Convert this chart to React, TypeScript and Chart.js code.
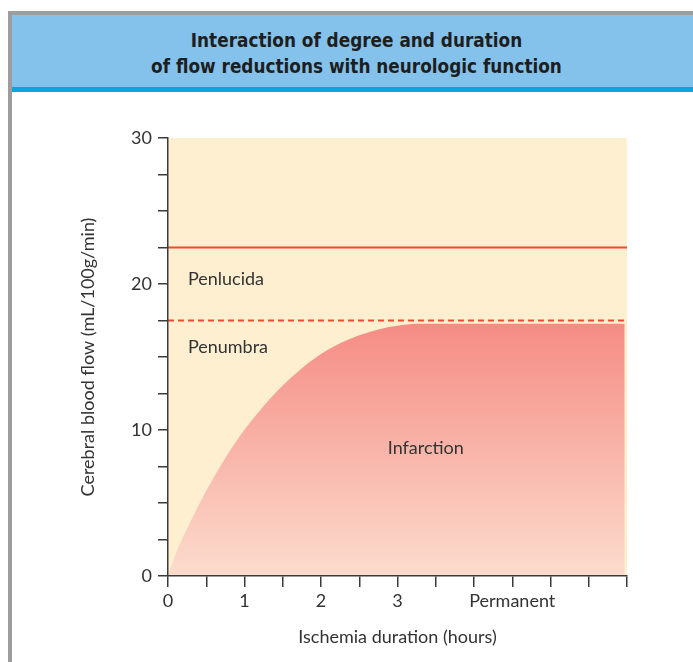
import React, { useEffect, useRef } from "react";
import { Chart, registerables } from "chart.js";

Chart.register(...registerables);

// ---------- data ----------
const titleLines = ["Interaction of degree and duration", "of flow reductions with neurologic function"];
const xAxisTitle = "Ischemia duration (hours)";
const yAxisTitle = "Cerebral blood flow (mL/100g/min)";

const durationHours = [0, 0.1, 0.25, 0.5, 0.75, 1.0, 1.25, 1.5, 1.75, 2.0, 2.25, 2.5, 2.75, 3.0, 3.25, 5.97];
const infarctionFlow = [0, 1.5, 3.25, 5.84, 8.09, 10.01, 11.65, 13.05, 14.23, 15.2, 15.94, 16.49, 16.89, 17.14, 17.28, 17.28];

const penlucidaThreshold = 22.5;
const penumbraThreshold = 17.5;
const thresholdSpan = [0, 6];

const xTickValues = [0, 1, 2, 3, 4.5];
const xTickTexts = ["0", "1", "2", "3", "Permanent"];
const yTickValues = [0, 10, 20, 30];

const zoneNames = ["Penlucida", "Penumbra", "Infarction"];
const zoneAnchorX = [0.26, 0.26, 3.37];
const zoneAnchorY = [20.3, 15.7, 8.75];
const zoneAlign = ["left", "left", "center"];

// ---------- styles ----------
const CREAM = "#FEEFD0";
const RED = "#F04A2C";
const TEXT = "#333333";
const AXIS = "#3a3a3a";
const FONT = "Lato, 'Open Sans', sans-serif";
const FS = 18;

const backgroundPlugin = {
  id: "zoneBackground",
  beforeDraw(chart: any) {
    const { ctx, chartArea } = chart;
    if (!chartArea) return;
    ctx.save();
    ctx.fillStyle = CREAM;
    ctx.fillRect(chartArea.left, chartArea.top, chartArea.right - chartArea.left, chartArea.bottom - chartArea.top);
    ctx.restore();
  },
  afterDatasetsDraw(chart: any) {
    const { ctx } = chart;
    const xs = chart.scales.x;
    const ys = chart.scales.y;
    ctx.save();
    ctx.fillStyle = TEXT;
    ctx.font = `${FS}px ${FONT}`;
    ctx.textBaseline = "middle";
    zoneNames.forEach((name, i) => {
      ctx.textAlign = zoneAlign[i] as CanvasTextAlign;
      ctx.fillText(name, xs.getPixelForValue(zoneAnchorX[i]), ys.getPixelForValue(zoneAnchorY[i]));
    });
    ctx.restore();
  },
};

export default function App() {
  const ref = useRef<HTMLCanvasElement | null>(null);

  useEffect(() => {
    if (!ref.current) return;
    const infarctionPoints = durationHours.map((x, i) => ({ x, y: infarctionFlow[i] }));
    const chart = new Chart(ref.current, {
      type: "scatter",
      data: {
        datasets: [
          {
            data: infarctionPoints,
            showLine: true,
            fill: "origin",
            borderWidth: 0,
            borderColor: "rgba(0,0,0,0)",
            pointRadius: 0,
            cubicInterpolationMode: "monotone",
            backgroundColor: (c: any) => {
              const ch = c.chart;
              const area = ch.chartArea;
              if (!area || !ch.scales.y) return "#F79E94";
              const top = ch.scales.y.getPixelForValue(17.3);
              const g = ch.ctx.createLinearGradient(0, top, 0, area.bottom);
              g.addColorStop(0, "#F58C84");
              g.addColorStop(1, "#FCDCCD");
              return g;
            },
          } as any,
          {
            data: thresholdSpan.map((x) => ({ x, y: penlucidaThreshold })),
            showLine: true,
            borderColor: RED,
            borderWidth: 2,
            pointRadius: 0,
            fill: false,
          } as any,
          {
            data: thresholdSpan.map((x) => ({ x, y: penumbraThreshold })),
            showLine: true,
            borderColor: RED,
            borderWidth: 2,
            borderDash: [6, 4],
            pointRadius: 0,
            fill: false,
          } as any,
        ],
      },
      options: {
        animation: false,
        responsive: false,
        maintainAspectRatio: false,
        devicePixelRatio: 1,
        layout: { padding: { top: 46, right: 66, left: 0, bottom: 0 } },
        plugins: { legend: { display: false }, tooltip: { enabled: false } },
        scales: {
          x: {
            type: "linear",
            min: 0,
            max: 6,
            afterFit: (s: any) => {
              s.height = 86;
            },
            afterBuildTicks: (s: any) => {
              const t = [];
              for (let v = 0; v <= 6; v += 0.5) t.push({ value: v });
              s.ticks = t;
            },
            ticks: {
              autoSkip: false,
              maxRotation: 0,
              color: TEXT,
              font: { family: FONT, size: FS },
              padding: 3,
              callback: (v: any) => {
                const i = xTickValues.indexOf(Number(v));
                return i >= 0 ? xTickTexts[i] : "";
              },
            },
            grid: { drawOnChartArea: false, drawTicks: true, tickLength: 11, tickColor: AXIS, lineWidth: 1.5 },
            border: { display: true, color: AXIS, width: 1.5, z: 1 },
            title: {
              display: true,
              text: xAxisTitle,
              color: TEXT,
              font: { family: FONT, size: FS },
              padding: { top: 0, bottom: 14 },
            },
          },
          y: {
            type: "linear",
            min: 0,
            max: 30,
            afterFit: (s: any) => {
              s.width = 157;
            },
            ticks: {
              stepSize: 2.5,
              autoSkip: false,
              color: TEXT,
              font: { family: FONT, size: FS },
              padding: 6,
              callback: (v: any) => (yTickValues.includes(Number(v)) ? String(v) : ""),
            },
            grid: { drawOnChartArea: false, drawTicks: true, tickLength: 10, tickColor: AXIS, lineWidth: 1.5 },
            border: { display: true, color: AXIS, width: 1.5, z: 1 },
            title: {
              display: true,
              text: yAxisTitle,
              color: TEXT,
              font: { family: FONT, size: FS },
              padding: { top: 66, bottom: 0 },
            },
          },
        },
      },
      plugins: [backgroundPlugin],
    });
    return () => chart.destroy();
  }, []);

  return (
    <div style={{ position: "absolute", left: 0, top: 0, width: 693, height: 662, overflow: "hidden", background: "#fff" }}>
      <div style={{ position: "absolute", left: 8, top: 11, width: 685, height: 4, background: "#9d9d9d" }} />
      <div style={{ position: "absolute", left: 8, top: 11, width: 4, height: 651, background: "#9d9d9d" }} />
      <div style={{ position: "absolute", left: 12, top: 15, width: 681, height: 72, background: "#84C2EB" }} />
      <div style={{ position: "absolute", left: 12, top: 87, width: 681, height: 5, background: "#0AA5DE" }} />
      <div
        style={{
          position: "absolute",
          left: 12,
          top: 28,
          width: 681,
          paddingLeft: 8,
          boxSizing: "border-box",
          textAlign: "center",
          fontFamily: "'DejaVu Sans Condensed', 'DejaVu Sans', sans-serif",
          fontStretch: "condensed",
          fontWeight: "bold",
          fontSize: 18.8,
          lineHeight: "26px",
          color: "#1e1e1e",
        }}
      >
        {titleLines.map((l) => (
          <div key={l}>{l}</div>
        ))}
      </div>
      <canvas ref={ref} width={682} height={570} style={{ position: "absolute", left: 11, top: 92, width: 682, height: 570 }} />
    </div>
  );
}
